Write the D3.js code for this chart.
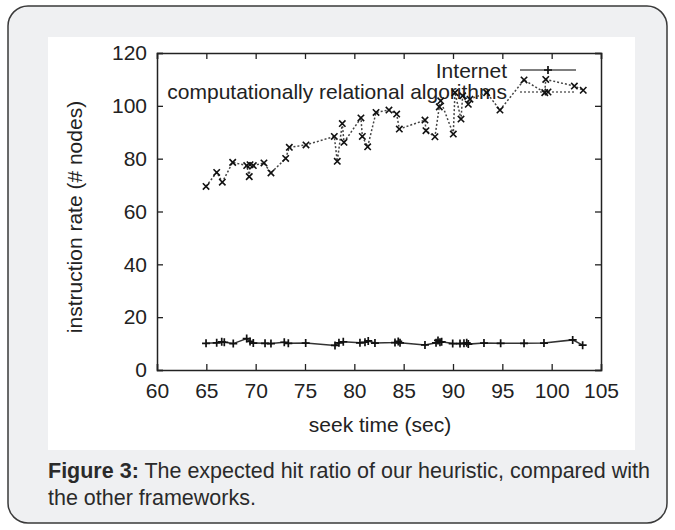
<!DOCTYPE html>
<html>
<head>
<meta charset="utf-8">
<script src="https://cdn.jsdelivr.net/npm/d3@7"></script>
<style>
  body { margin: 0; background: #fff; }
  svg { display: block; font-family: "Liberation Sans", Arial, sans-serif; }
</style>
</head>
<body>
<script>
// data
var relX = [64.97, 66.05, 66.62, 67.67, 69.09, 69.35, 69.43, 69.76, 70.84, 71.55, 73.04, 73.41, 75.1,
    77.97, 78.27, 78.78, 78.95, 80.67, 80.81, 81.35, 82.2, 83.51, 84.29, 84.56, 87.16, 87.26, 88.17,
    88.61, 88.75, 90.03, 90.2, 90.81, 90.98, 91.55, 91.72, 93.41, 94.76, 97.2, 99.3, 99.4, 102.3, 103.2];
var relY = [69.5, 74.8, 71.1, 78.6, 77.4, 73.2, 77.7, 77.4, 78.4, 74.6, 80.1, 84.3, 85.2,
    88.4, 79.0, 93.3, 86.2, 95.4, 88.4, 84.5, 97.5, 98.4, 96.9, 91.2, 94.6, 90.6, 88.3,
    99.6, 101.9, 89.3, 105, 95, 103.8, 100.6, 102.5, 105, 98.4, 109.8, 105, 110, 107.5, 105.9];

var netX = [64.97, 66.05, 66.56, 66.82, 67.73, 69.09, 69.43, 69.76, 70.95, 71.55, 72.9, 73.31, 75.07,
    78.04, 78.44, 78.88, 80.57, 81.08, 81.41, 82.09, 84.12, 84.45, 84.63, 87.16, 88.28, 88.48, 88.68,
    88.85, 89.97, 90.71, 91.11, 91.39, 91.55, 93.14, 94.83, 97.2, 99.22, 102.13, 103.14];
var netY = [10.1, 10.3, 10.7, 10.5, 10.0, 11.9, 10.8, 10.2, 10.1, 10.0, 10.5, 10.1, 10.2,
    9.3, 10.3, 10.7, 10.3, 10.5, 11.0, 10.2, 10.4, 10.8, 10.3, 9.5, 10.3, 11.2, 10.5,
    10.7, 10.0, 10.0, 10.1, 10.3, 9.8, 10.2, 10.1, 10.1, 10.2, 11.4, 9.4];

var xTicks = [60, 65, 70, 75, 80, 85, 90, 95, 100, 105];
var yTicks = [0, 20, 40, 60, 80, 100, 120];
var seriesNames = ["Internet", "computationally relational algorithms"];

var W = 675, H = 530;
var fs = 21;
var svg = d3.select("body").append("svg").attr("width", W).attr("height", H);

// card + white panel
svg.append("rect").attr("x", 8).attr("y", 6).attr("width", 659).attr("height", 517)
    .attr("rx", 20).attr("fill", "#eff0f2").attr("stroke", "#3a3a3a").attr("stroke-width", 1.5);
svg.append("rect").attr("x", 48).attr("y", 37).attr("width", 587).attr("height", 413).attr("fill", "#fff");

var x = d3.scaleLinear().domain([60, 105]).range([157, 601]);
var y = d3.scaleLinear().domain([0, 120]).range([370, 53]);
var ink = "#222";

// axes, gnuplot style ticks inward on all sides
var gx = svg.append("g").attr("transform", "translate(0," + y(0) + ")")
    .call(d3.axisBottom(x).tickValues(xTicks).tickSize(-6).tickPadding(13));
var gxt = svg.append("g").attr("transform", "translate(0," + y(120) + ")")
    .call(d3.axisTop(x).tickValues(xTicks).tickSize(-6).tickFormat(""));
var gy = svg.append("g").attr("transform", "translate(" + x(60) + ",0)")
    .call(d3.axisLeft(y).tickValues(yTicks).tickSize(-6).tickPadding(10));
var gyr = svg.append("g").attr("transform", "translate(" + x(105) + ",0)")
    .call(d3.axisRight(y).tickValues(yTicks).tickSize(-6).tickFormat(""));
[gx, gxt, gy, gyr].forEach(function (g) {
    g.select(".domain").attr("stroke", ink).attr("stroke-width", 1.5);
    g.selectAll(".tick line").attr("stroke", ink).attr("stroke-width", 1.3);
    g.selectAll("text").attr("font-size", fs).attr("fill", ink).attr("font-family", "Liberation Sans, Arial, sans-serif");
});

svg.append("text").attr("x", 380).attr("y", 432).attr("text-anchor", "middle")
    .attr("font-size", fs).attr("fill", ink).text("seek time (sec)");
svg.append("text").attr("transform", "translate(82,217) rotate(-90)").attr("text-anchor", "middle")
    .attr("font-size", fs).attr("fill", ink).text("instruction rate (# nodes)");

// markers
function plus(g, cx, cy) {
    g.append("path").attr("d", "M" + (cx - 4) + "," + cy + "h8M" + cx + "," + (cy - 4) + "v8")
        .attr("stroke", "#111").attr("stroke-width", 1.7).attr("fill", "none");
}
function cross(g, cx, cy) {
    g.append("path").attr("d", "M" + (cx - 3.2) + "," + (cy - 3.2) + "l6.4,6.4M" + (cx - 3.2) + "," + (cy + 3.2) + "l6.4,-6.4")
        .attr("stroke", "#111").attr("stroke-width", 1.6).attr("fill", "none");
}

var line = d3.line().x(function (d) { return x(d[0]); }).y(function (d) { return y(d[1]); });
var netData = netX.map(function (v, i) { return [v, netY[i]]; });
var relData = relX.map(function (v, i) { return [v, relY[i]]; });

// legend
svg.append("text").attr("x", 507).attr("y", 78).attr("text-anchor", "end")
    .attr("font-size", fs).attr("fill", ink).text(seriesNames[0]);
svg.append("text").attr("x", 507).attr("y", 99).attr("text-anchor", "end")
    .attr("font-size", fs).attr("fill", ink).text(seriesNames[1]);
svg.append("line").attr("x1", 520).attr("x2", 576).attr("y1", 70).attr("y2", 70)
    .attr("stroke", "#555").attr("stroke-width", 1.5);
plus(svg, 548, 70);
svg.append("line").attr("x1", 520).attr("x2", 576).attr("y1", 92).attr("y2", 92)
    .attr("stroke", "#666").attr("stroke-width", 1.4).attr("stroke-dasharray", "2,2");
cross(svg, 548, 92);

// series
svg.append("path").datum(relData).attr("d", line).attr("fill", "none")
    .attr("stroke", "#444").attr("stroke-width", 1.5).attr("stroke-dasharray", "2,2");
relData.forEach(function (d) { cross(svg, x(d[0]), y(d[1])); });

svg.append("path").datum(netData).attr("d", line).attr("fill", "none")
    .attr("stroke", "#333").attr("stroke-width", 1.5);
netData.forEach(function (d) { plus(svg, x(d[0]), y(d[1])); });

// caption
var cap = svg.append("text").attr("x", 48).attr("y", 478).attr("font-size", 21.5).attr("fill", "#2a2a2a");
cap.append("tspan").attr("font-weight", "bold").text("Figure 3:");
cap.append("tspan").text(" The expected hit ratio of our heuristic, compared with");
svg.append("text").attr("x", 48).attr("y", 505).attr("font-size", 21.5).attr("fill", "#2a2a2a")
    .text("the other frameworks.");
</script>
</body>
</html>
